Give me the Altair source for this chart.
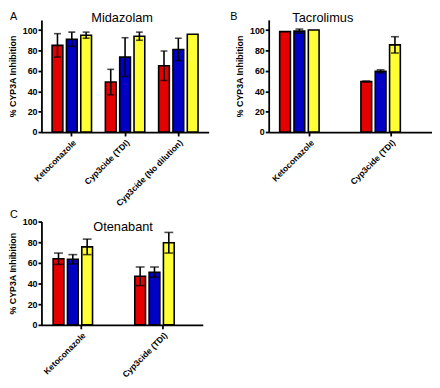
import altair as alt
import pandas as pd

FONT = "Liberation Sans"
SERIES = ["Series 1", "Series 2", "Series 3"]
COLORS = ["#e50000", "#0000c4", "#ffff33"]

# Panel A - Midazolam
A_groups = ["Ketoconazole", "Cyp3cide (TDI)", "Cyp3cide (No dilution)"]
A_red = [85, 49, 65]
A_red_err = [11.5, 12.5, 14.5]
A_blue = [91, 73.5, 81]
A_blue_err = [7, 19, 11]
A_yellow = [95, 94, 96]
A_yellow_err = [3, 4, 0]

# Panel B - Tacrolimus
B_groups = ["Ketoconazole", "Cyp3cide (TDI)"]
B_red = [98.5, 49.5]
B_red_err = [0, 0.5]
B_blue = [99, 59.5]
B_blue_err = [2, 1.5]
B_yellow = [100, 85.5]
B_yellow_err = [0, 8]

# Panel C - Otenabant
C_groups = ["Ketoconazole", "Cyp3cide (TDI)"]
C_red = [64, 47]
C_red_err = [5.5, 9]
C_blue = [63.5, 51]
C_blue_err = [4.5, 5]
C_yellow = [75.5, 79.5]
C_yellow_err = [7.5, 10]

Y_TICKS = [0, 20, 40, 60, 80, 100]


def make_df(groups, red, red_e, blue, blue_e, yel, yel_e):
    rows = []
    for i, g in enumerate(groups):
        for s, v, e in zip(SERIES, (red[i], blue[i], yel[i]), (red_e[i], blue_e[i], yel_e[i])):
            rows.append(dict(group=g, series=s, value=v, lo=v - e, hi=v + e, err=e))
    return pd.DataFrame(rows)


def panel(df, groups, title, letter, w, h, ymax, pi, po, off_pi, cap,
          title_x, title_y, letter_x, letter_y):
    x = alt.X("group:N", sort=groups, title=None,
              scale=alt.Scale(paddingInner=pi, paddingOuter=po),
              axis=alt.Axis(labelAngle=-45, labelPadding=2, labelFontSize=8.6))
    xo = alt.XOffset("series:N", sort=SERIES, scale=alt.Scale(paddingInner=off_pi))

    def ydef(field):
        return alt.Y(field, type="quantitative",
                     scale=alt.Scale(domain=[0, ymax], nice=False),
                     axis=alt.Axis(values=Y_TICKS, title="% CYP3A Inhibition",
                                   titlePadding=5, labelPadding=1, tickSize=3.5))

    bars = alt.Chart(df).mark_bar(stroke="black", strokeWidth=1.6).encode(
        x=x, xOffset=xo, y=ydef("value"),
        color=alt.Color("series:N", scale=alt.Scale(domain=SERIES, range=COLORS), legend=None),
    )
    edf = df[df.err > 0]
    rule = alt.Chart(edf).mark_rule(color="black", strokeWidth=1.6).encode(
        x=x, xOffset=xo, y=ydef("lo"), y2="hi:Q")
    cap_hi = alt.Chart(edf).mark_tick(color="black", thickness=1.6, size=cap).encode(
        x=x, xOffset=xo, y=ydef("hi"))
    cap_lo = alt.Chart(edf).mark_tick(color="black", thickness=1.6, size=cap).encode(
        x=x, xOffset=xo, y=ydef("lo"))
    ttl = alt.Chart(pd.DataFrame({"t": [title]})).mark_text(
        font=FONT, fontSize=13, color="black", align="center", baseline="alphabetic"
    ).encode(text="t:N", x=alt.value(title_x), y=alt.value(title_y))
    let = alt.Chart(pd.DataFrame({"t": [letter]})).mark_text(
        font=FONT, fontSize=11, color="black", align="left", baseline="alphabetic"
    ).encode(text="t:N", x=alt.value(letter_x), y=alt.value(letter_y))
    return alt.layer(bars, rule, cap_hi, cap_lo, ttl, let).properties(width=w, height=h)


dfA = make_df(A_groups, A_red, A_red_err, A_blue, A_blue_err, A_yellow, A_yellow_err)
dfB = make_df(B_groups, B_red, B_red_err, B_blue, B_blue_err, B_yellow, B_yellow_err)
dfC = make_df(C_groups, C_red, C_red_err, C_blue, C_blue_err, C_yellow, C_yellow_err)

pA = panel(dfA, A_groups, "Midazolam", "A", 170, 114, 110, 0.26, 0.2, 0.25, 7,
           82, 2, -32, 0)
pB = panel(dfB, B_groups, "Tacrolimus", "B", 166, 114, 110, 0.26, 0.135, 0.3, 8,
           55, 2, -39, 0)
pC = panel(dfC, C_groups, "Otenabant", "C", 164, 105, 100, 0.31, 0.143, 0.45, 9,
           83, 10, -32, -4)

chart = alt.concat(pA, pB, pC, columns=2, spacing={"row": 91, "column": 61},
                   bounds="flush").properties(
    padding=0
).configure_view(stroke=None).configure_axis(
    grid=False,
    domainColor="black", domainWidth=1.8,
    tickColor="black", tickWidth=1.8, tickSize=4,
    labelFont=FONT, labelFontWeight="bold", labelFontSize=9, labelColor="black",
    titleFont=FONT, titleFontWeight="bold", titleFontSize=9, titleColor="black",
)

chart.save("out.html", embed_options={"renderer": "svg", "actions": False})
